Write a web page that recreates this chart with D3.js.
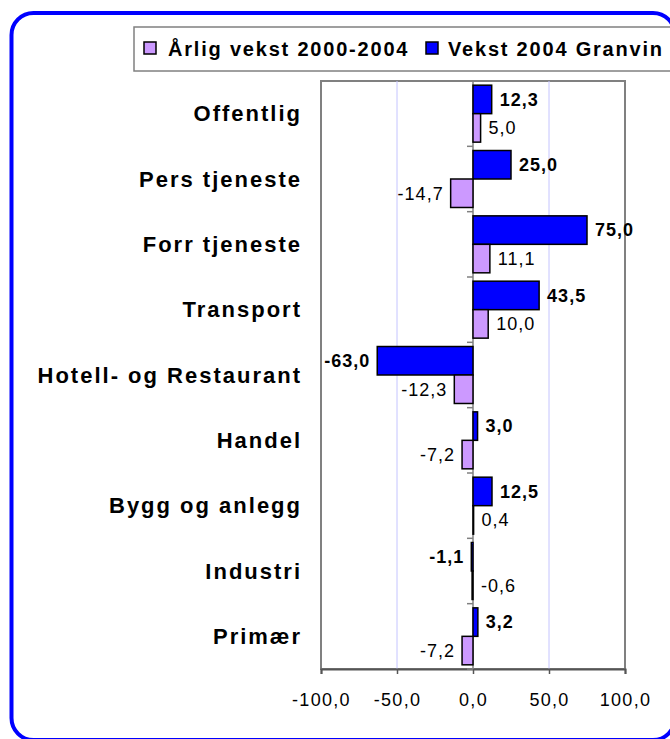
<!DOCTYPE html>
<html>
<head>
<meta charset="utf-8">
<script src="https://cdn.jsdelivr.net/npm/d3@7"></script>
<style>
  html, body { margin: 0; padding: 0; background: #fff; }
  text { font-family: "Liberation Sans", Arial, sans-serif; fill: #000; }
</style>
</head>
<body>
<svg id="chart" width="670" height="739"></svg>
<script>
"use strict";

// categories, top to bottom
const categories = ["Offentlig", "Pers tjeneste", "Forr tjeneste", "Transport",
  "Hotell- og Restaurant", "Handel", "Bygg og anlegg", "Industri", "Primær"];

// series values
const vekst2004 = [12.3, 25.0, 75.0, 43.5, -63.0, 3.0, 12.5, -1.1, 3.2];
const arligVekst = [5.0, -14.7, 11.1, 10.0, -12.3, -7.2, 0.4, -0.6, -7.2];

const seriesNames = ["Årlig vekst 2000-2004", "Vekst 2004 Granvin"];
const xTicks = [-100, -50, 0, 50, 100];

const fmt = (v) => v.toFixed(1).replace(".", ",").replace("\u2212", "-");

const svg = d3.select("#chart");

// outer rounded frame
svg.append("rect")
    .attr("x", 11.5).attr("y", 13)
    .attr("width", 663.5).attr("height", 727)
    .attr("rx", 22).attr("ry", 22)
    .attr("fill", "#fff")
    .attr("stroke", "#0000ff")
    .attr("stroke-width", 4);

// plot area
const plot = { left: 321, right: 625, top: 81, bottom: 669 };

const x = d3.scaleLinear()
    .domain([-100, 100])
    .range([plot.left, plot.right]);

const y = d3.scaleBand()
    .domain(categories)
    .range([plot.top, plot.bottom])
    .paddingInner(0.128)
    .paddingOuter(0.064);

const inner = d3.scaleBand()
    .domain(["vekst", "arlig"])
    .range([0, y.bandwidth()]);

const step = y.step();

// plot border
svg.append("rect")
    .attr("x", plot.left).attr("y", plot.top)
    .attr("width", plot.right - plot.left)
    .attr("height", plot.bottom - plot.top)
    .attr("fill", "none")
    .attr("stroke", "#808080")
    .attr("stroke-width", 2);

// gridlines
svg.append("g")
  .selectAll("line")
  .data(xTicks.filter((t) => t !== 0 && t !== -100 && t !== 100))
  .enter().append("line")
    .attr("x1", (d) => x(d)).attr("x2", (d) => x(d))
    .attr("y1", plot.top).attr("y2", plot.bottom)
    .attr("stroke", "#c4c4ff")
    .attr("stroke-width", 1);

// x axis
const xAxis = d3.axisBottom(x)
    .tickValues(xTicks)
    .tickSize(5)
    .tickPadding(19)
    .tickFormat(fmt);

const gx = svg.append("g")
    .attr("transform", "translate(0," + plot.bottom + ")")
    .call(xAxis);
gx.select(".domain").attr("stroke", "#555").attr("stroke-width", 2);
gx.selectAll(".tick line").attr("stroke", "#555").attr("stroke-width", 1.5);
gx.selectAll(".tick text")
    .style("font-family", "'Liberation Sans', Arial, sans-serif")
    .style("font-size", "18px")
    .style("letter-spacing", "1.3px")
    .attr("fill", "#000");

// category axis on zero line
svg.append("line")
    .attr("x1", x(0)).attr("x2", x(0))
    .attr("y1", plot.top).attr("y2", plot.bottom)
    .attr("stroke", "#808080")
    .attr("stroke-width", 1.5);

svg.append("g")
  .selectAll("line")
  .data(d3.range(categories.length + 1))
  .enter().append("line")
    .attr("x1", x(0) - 6).attr("x2", x(0))
    .attr("y1", (i) => plot.top + i * step)
    .attr("y2", (i) => plot.top + i * step)
    .attr("stroke", "#808080")
    .attr("stroke-width", 1.5);

// category labels
svg.append("g")
  .selectAll("text")
  .data(categories)
  .enter().append("text")
    .attr("x", 302)
    .attr("y", (d) => y(d) + y.bandwidth() / 2)
    .attr("dy", ".35em")
    .attr("text-anchor", "end")
    .style("font-size", "22px")
    .style("font-weight", "bold")
    .style("letter-spacing", "2px")
    .text((d) => d);

// bars
const rows = categories.map((c, i) => ({ name: c, vekst: vekst2004[i], arlig: arligVekst[i] }));
const series = [
  { key: "vekst", color: "#0000ff", bold: true },
  { key: "arlig", color: "#cc99ff", bold: false }
];

const groups = svg.selectAll(".cat")
    .data(rows)
  .enter().append("g")
    .attr("class", "cat")
    .attr("transform", (d) => "translate(0," + y(d.name) + ")");

// negative labels sit left of the bar, unless the bar is too thin to see
const onLeft = (v) => v < 0 && Math.abs(v) >= 1;

series.forEach((s) => {
  groups.append("rect")
      .attr("x", (d) => x(Math.min(0, d[s.key])))
      .attr("y", inner(s.key))
      .attr("width", (d) => Math.abs(x(d[s.key]) - x(0)))
      .attr("height", inner.bandwidth())
      .attr("fill", s.color)
      .attr("stroke", "#000")
      .attr("stroke-width", 1.5);

  groups.append("text")
      .attr("x", (d) => onLeft(d[s.key]) ? x(d[s.key]) - 7 : Math.max(x(d[s.key]), x(0)) + 8)
      .attr("y", inner(s.key) + inner.bandwidth() / 2)
      .attr("dy", ".35em")
      .attr("text-anchor", (d) => onLeft(d[s.key]) ? "end" : "start")
      .style("font-size", "18px")
      .style("font-weight", s.bold ? "bold" : "normal")
      .style("letter-spacing", "1px")
      .text((d) => fmt(d[s.key]));
});

// legend
const legend = svg.append("g");
legend.append("rect")
    .attr("x", 134).attr("y", 27)
    .attr("width", 600).attr("height", 44)
    .attr("fill", "#fff")
    .attr("stroke", "#808080")
    .attr("stroke-width", 1.5);

const legendItems = [
  { name: seriesNames[0], color: "#cc99ff", sx: 144, tx: 168 },
  { name: seriesNames[1], color: "#0000ff", sx: 426, tx: 448 }
];
legendItems.forEach((it) => {
  legend.append("rect")
      .attr("x", it.sx).attr("y", 42)
      .attr("width", 12).attr("height", 12)
      .attr("fill", it.color)
      .attr("stroke", "#000")
      .attr("stroke-width", 1.5);
  legend.append("text")
      .attr("x", it.tx).attr("y", 56)
      .style("font-size", "20px")
      .style("font-weight", "bold")
      .style("letter-spacing", "1.8px")
      .text(it.name);
});
</script>
</body>
</html>
